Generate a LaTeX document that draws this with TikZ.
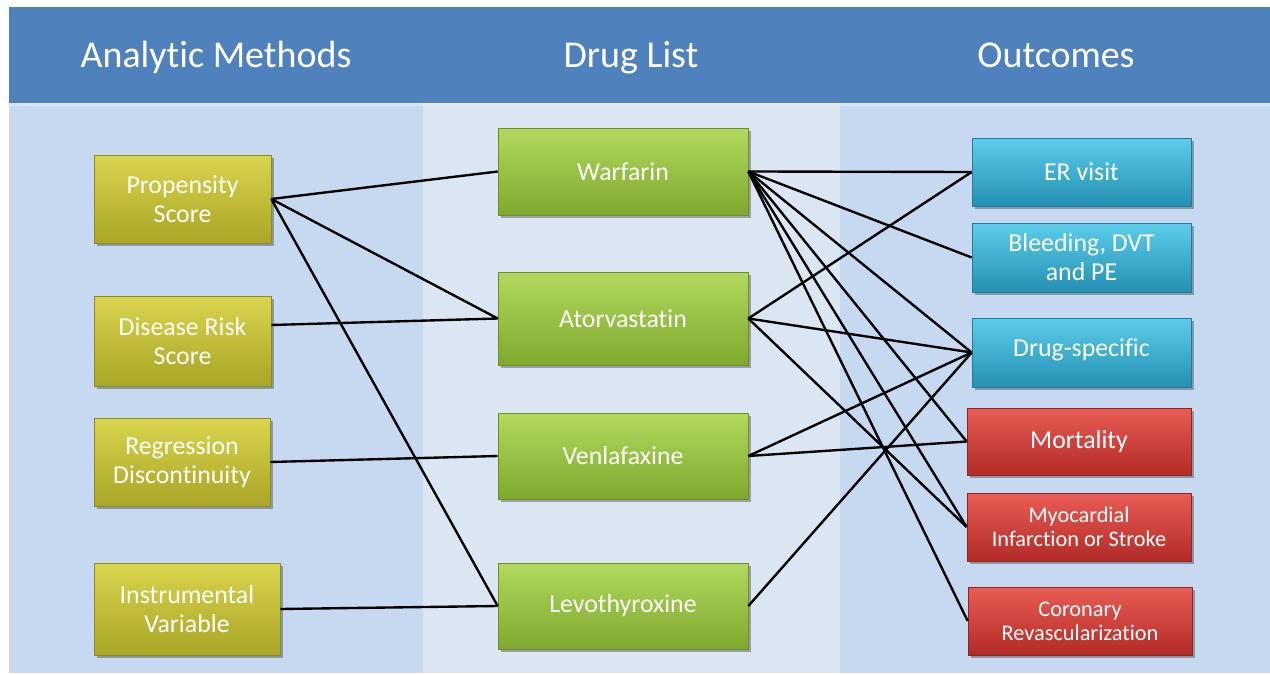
\documentclass[tikz,border=0pt]{standalone}
\usepackage{fontspec}
\setmainfont{Carlito}[Ligatures={NoCommon}]
\usetikzlibrary{shadows,calc}
\definecolor{hdr}{HTML}{4F81BD}
\definecolor{colA}{HTML}{C6D9F0}
\definecolor{colB}{HTML}{DCE6F2}
\definecolor{yelT}{HTML}{D9D54E}
\definecolor{yelM}{HTML}{C8C336}
\definecolor{yelB}{HTML}{A9A526}
\definecolor{yelD}{HTML}{8E8A1E}
\definecolor{grnT}{HTML}{B2D95E}
\definecolor{grnM}{HTML}{9BC83F}
\definecolor{grnB}{HTML}{7FA82E}
\definecolor{grnD}{HTML}{6C9026}
\definecolor{cyaT}{HTML}{5CCDEB}
\definecolor{cyaM}{HTML}{33B2D6}
\definecolor{cyaB}{HTML}{2490B3}
\definecolor{cyaD}{HTML}{1F7C9A}
\definecolor{redT}{HTML}{EA5C56}
\definecolor{redM}{HTML}{D63C36}
\definecolor{redB}{HTML}{B22B26}
\definecolor{redD}{HTML}{95231F}
\tikzset{
  box/.style={rectangle, inner sep=0pt, align=center, text=white,
    font=\fontsize{14.7}{16.5}\selectfont, line width=0.4pt,
    drop shadow={shadow xshift=1.6pt, shadow yshift=-1.6pt, fill=black, opacity=0.3}},
  ybox/.style={box, top color=yelT, middle color=yelM, bottom color=yelB, draw=yelD},
  gbox/.style={box, top color=grnT, middle color=grnM, bottom color=grnB, draw=grnD},
  cbox/.style={box, top color=cyaT, middle color=cyaM, bottom color=cyaB, draw=cyaD},
  rbox/.style={box, top color=redT, middle color=redM, bottom color=redB, draw=redD},
  small/.style={font=\fontsize{12.7}{13.6}\selectfont},
  hdrtext/.style={text=white, anchor=base, font=\fontsize{21.6}{24}\selectfont},
  link/.style={line width=1.35pt, black}
}
\begin{document}
\begin{tikzpicture}[x=0.02cm,y=-0.02cm]
\useasboundingbox[fill=white] (0,0) rectangle (1270,675);
% backgrounds
\fill[colA] (9,103) rectangle (423,673);
\fill[colB] (423,103) rectangle (840,673);
\fill[colA] (840,103) rectangle (1270,673);
\fill[hdr] (9,7) rectangle (1270,103);
\fill[white,opacity=0.35] (9,103) rectangle (1270,106);
% headers
\node[hdrtext] (h1) at (216,68) {Analytic Methods};
\node[hdrtext] (h2) at (631,68) {Drug List};
\node[hdrtext] (h3) at (1056,68) {Outcomes};
% left column
\node[ybox, minimum width=3.54cm, minimum height=1.76cm] (ps) at (182.5,199) {Propensity\\Score};
\node[ybox, minimum width=3.54cm, minimum height=1.80cm] (drs) at (182.5,341) {Disease Risk\\Score};
\node[ybox, minimum width=3.52cm, minimum height=1.76cm] (rd) at (182,462) {Regression\\Discontinuity};
\node[ybox, minimum width=3.72cm, minimum height=1.84cm] (iv) at (187,609) {Instrumental\\Variable};
% middle column
\node[gbox, minimum width=5.0cm, minimum height=1.74cm] (war) at (623,171.5) {Warfarin};
\node[gbox, minimum width=5.0cm, minimum height=1.86cm] (ato) at (623,318.5) {Atorvastatin};
\node[gbox, minimum width=5.0cm, minimum height=1.72cm] (ven) at (623,456) {Venlafaxine};
\node[gbox, minimum width=5.0cm, minimum height=1.72cm] (lev) at (623,606) {Levothyroxine};
% right column
\node[cbox, minimum width=4.38cm, minimum height=1.36cm] (er) at (1081.5,172) {ER visit};
\node[cbox, minimum width=4.38cm, minimum height=1.38cm] (bl) at (1081.5,257.5) {Bleeding, DVT\\and PE};
\node[cbox, minimum width=4.38cm, minimum height=1.38cm] (ds) at (1081.5,352.5) {\raisebox{6pt}{Drug-specific}};
\node[rbox, minimum width=4.48cm, minimum height=1.34cm] (mo) at (1079,441.5) {Mortality};
\node[rbox, small, minimum width=4.48cm, minimum height=1.36cm] (mi) at (1079,527) {Myocardial\\Infarction or Stroke};
\node[rbox, small, minimum width=4.48cm, minimum height=1.36cm] (cr) at (1080,621) {Coronary\\Revascularization};
% connectors left-middle
\draw[link] (ps.east) -- (war.west);
\draw[link] (ps.east) -- (ato.west);
\draw[link] (ps.east) -- (lev.west);
\draw[link] ([yshift=0.32cm]drs.east) -- (ato.west);
\draw[link] (rd.east) -- (ven.west);
\draw[link] (iv.east) -- (lev.west);
% connectors middle-right
\draw[link] (war.east) -- (er.west);
\draw[link] (war.east) -- (bl.west);
\draw[link] (war.east) -- (ds.west);
\draw[link] (war.east) -- (mo.west);
\draw[link] (war.east) -- (mi.west);
\draw[link] (war.east) -- (cr.west);
\draw[link] (ato.east) -- (er.west);
\draw[link] (ato.east) -- (ds.west);
\draw[link] (ato.east) -- (mi.west);
\draw[link] (ven.east) -- (ds.west);
\draw[link] (ven.east) -- (mo.west);
\draw[link] (lev.east) -- (ds.west);
\end{tikzpicture}
\end{document}
